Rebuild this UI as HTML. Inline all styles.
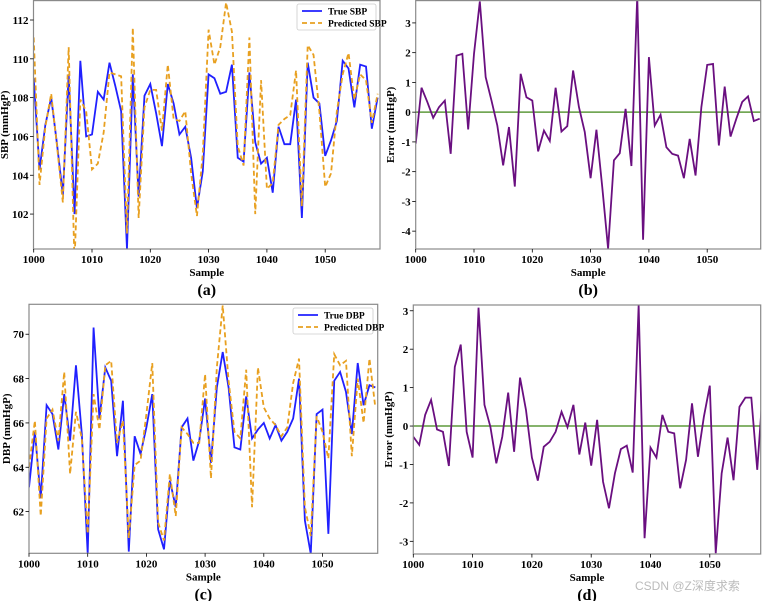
<!DOCTYPE html>
<html><head><meta charset="utf-8"><style>
html,body{margin:0;padding:0;background:#fff;}
svg{display:block;font-family:"Liberation Serif","Noto Serif CJK SC",serif;}
.tk{font-size:11px;font-weight:bold;fill:#000;}
.al{font-size:11px;font-weight:bold;fill:#000;}
.pl{font-size:16px;font-weight:bold;fill:#000;}
</style></head><body>
<svg id="fig" width="762" height="601" viewBox="0 0 762 601" xmlns="http://www.w3.org/2000/svg">
<text x="635" y="590" style="font-family:'Liberation Sans','Noto Sans CJK SC',sans-serif;font-size:12px;fill:#bbb">CSDN @Z深度求索</text>
</svg>
<script>
const samples = Array.from({length:60},(_,i)=>1000+i);
const trueSBP = [109.0,104.3,106.6,108.0,105.6,103.0,109.2,102.0,109.9,106.0,106.1,108.3,107.9,109.8,108.6,107.3,100.2,109.2,102.9,108.1,108.7,107.2,105.5,108.7,107.7,106.1,106.5,104.9,102.3,104.2,109.2,109.0,108.2,108.3,109.7,104.9,104.7,109.3,105.7,104.6,104.9,103.1,106.5,105.6,105.6,107.9,101.8,109.8,108.0,107.7,105.0,105.8,106.8,109.9,109.5,107.5,109.7,109.6,106.4,108.0];
const predSBP = [111.1,103.5,106.5,108.2,105.5,102.6,110.6,99.5,107.9,107.3,104.3,104.6,106.2,109.3,109.2,109.1,101.0,111.6,101.8,107.5,108.4,108.4,106.3,109.7,106.9,106.8,107.3,104.1,101.9,105.1,111.5,109.7,110.6,112.9,111.4,105.5,104.5,111.1,102.0,108.9,103.3,103.6,106.6,106.9,107.1,109.4,102.4,110.7,110.2,107.3,103.4,104.1,107.3,109.2,110.3,107.9,109.2,108.9,106.7,108.2];
const errSBP = [-1.06,0.82,0.34,-0.19,0.17,0.39,-1.4,1.9,1.96,-0.58,1.96,3.72,1.18,0.39,-0.45,-1.79,-0.5,-2.5,1.29,0.5,0.39,-1.32,-0.62,-0.97,0.82,-0.65,-0.47,1.4,0.17,-0.67,-2.22,-0.59,-2.52,-4.59,-1.62,-1.38,0.11,-1.81,3.9,-4.29,1.85,-0.45,-0.09,-1.18,-1.4,-1.46,-2.22,-0.9,-2.13,0.17,1.59,1.62,-1.12,0.86,-0.82,-0.22,0.34,0.53,-0.3,-0.22];
const trueDBP = [63.1,65.6,62.6,66.8,66.4,64.8,67.3,65.2,68.6,65.5,60.1,70.3,66.2,68.5,67.9,64.5,67.0,60.2,65.4,64.6,65.8,67.3,61.2,60.3,63.4,62.2,65.8,66.2,64.3,65.2,67.1,64.2,67.6,69.2,67.6,64.9,64.8,67.2,65.3,65.7,66.0,65.3,65.9,65.2,65.6,66.2,68.0,61.6,60.1,66.4,66.6,61.0,67.9,68.3,67.4,65.5,68.7,66.8,67.7,67.6];
const predDBP = [64.0,66.1,61.8,66.2,66.6,65.2,68.3,63.7,66.5,65.3,61.0,67.3,65.7,68.6,68.8,65.1,66.1,60.8,64.1,64.3,66.4,68.7,61.5,60.7,63.7,61.8,65.8,65.5,65.1,65.1,68.2,63.5,68.5,71.3,67.9,65.6,65.3,68.4,62.2,68.5,66.7,66.2,65.9,65.4,65.8,67.8,68.9,62.2,60.9,66.3,65.6,64.4,69.1,68.6,68.8,64.5,68.0,66.0,68.9,66.7];
const errDBP = [-0.28,-0.49,0.29,0.68,-0.09,-0.15,-1.04,1.54,2.12,-0.15,-0.82,3.08,0.55,-0.02,-0.97,-0.28,0.87,-0.67,1.26,0.42,-0.82,-1.42,-0.54,-0.41,-0.15,0.37,-0.03,0.55,-0.74,0.09,-1.03,0.16,-1.45,-2.14,-1.23,-0.6,-0.51,-1.21,3.15,-2.92,-0.56,-0.82,0.29,-0.15,-0.19,-1.62,-0.88,0.59,-0.8,0.24,1.05,-3.31,-1.23,-0.3,-1.41,0.5,0.74,0.74,-1.14,1.08];
const xTicks = [1000,1010,1020,1030,1040,1050];
const sbpTicks = [102,104,106,108,110,112];
const dbpTicks = [62,64,66,68,70];
const errSbpTicks = [-4,-3,-2,-1,0,1,2,3];
const errDbpTicks = [-3,-2,-1,0,1,2,3];

const NS='http://www.w3.org/2000/svg';
const svg=document.getElementById('fig');
let clipN=0;
function mk(tag,attrs,parent){const e=document.createElementNS(NS,tag);for(const k in attrs)e.setAttribute(k,attrs[k]);(parent||svg).appendChild(e);return e;}

function panel(o){
  const g=mk('g',{});
  
  
  const sx=v=>o.x0+(v-1000)*o.dx;
  const sy=v=>o.bottom-(v-o.ymin)/(o.ymax-o.ymin)*(o.bottom-o.top);
  const cid='clip'+(clipN++);
  const cp=mk('clipPath',{id:cid},g);
  mk('rect',{x:o.left,y:o.top,width:o.right-o.left,height:o.bottom-o.top},cp);
  const plot=mk('g',{'clip-path':'url(#'+cid+')'},g);
  if(o.zero){
    const z=mk('line',{x1:o.left,x2:o.right,y1:sy(0),y2:sy(0),stroke:'#5e9a3c','stroke-width':1.5},plot);
    
    
  }
  o.series.forEach(s=>{
    const d=s.data.map((v,i)=>(i?'L':'M')+sx(samples[i]).toFixed(2)+' '+sy(v).toFixed(2)).join(' ');
    const p=mk('path',{d:d,fill:'none',stroke:s.color,'stroke-width':s.w||1.8,'stroke-dasharray':s.dash||'none','stroke-linejoin':'miter'},plot);
    
    
  });
  const fr=mk('rect',{x:o.left,y:o.top,width:o.right-o.left,height:o.bottom-o.top,fill:'none',stroke:'#8a8a8a','stroke-width':1.2},g);
  
  
  xTicks.forEach(t=>{
    const x=sx(t);
    mk('line',{x1:x,x2:x,y1:o.bottom,y2:o.bottom+3.5,stroke:'#000','stroke-width':0.8},g);
    const tx=mk('text',{x:x,y:o.bottom+14,'text-anchor':'middle',class:'tk'},g);
    tx.textContent=t;
    
    
  });
  o.yticks.forEach(t=>{
    const y=sy(t);
    mk('line',{x1:o.left-3.5,x2:o.left,y1:y,y2:y,stroke:'#000','stroke-width':0.8},g);
    const ty=mk('text',{x:o.left-5,y:y+4,'text-anchor':'end',class:'tk'},g);
    ty.textContent=t;
    
    
  });
  const cx=(o.left+o.right)/2;
  const xl=mk('text',{x:cx,y:o.bottom+27,'text-anchor':'middle',class:'al'},g);
  xl.textContent='Sample';
  
  
  const cy=(o.top+o.bottom)/2;
  const yl=mk('text',{x:o.ylabx,y:cy,'text-anchor':'middle',class:'al',transform:'rotate(-90 '+o.ylabx+' '+cy+')'},g);
  yl.textContent=o.ylabel;
  
  
  const pl=mk('text',{x:cx,y:o.bottom+46,'text-anchor':'middle',class:'pl'},g);
  pl.textContent=o.tag;
  
  
  if(o.legend){
    const L=o.legend;
    const lg=mk('g',{},g);
    
    
    mk('rect',{x:L.x,y:L.y,width:L.w,height:26,fill:'#fff',stroke:'#ccc','stroke-width':0.8,rx:2},lg);
    L.items.forEach((it,k)=>{
      const yy=L.y+7+k*12;
      mk('line',{x1:L.x+5,x2:L.x+25,y1:yy,y2:yy,stroke:it.color,'stroke-width':1.8,'stroke-dasharray':it.dash||'none'},lg);
      const t=mk('text',{x:L.x+31,y:yy+3.5,style:'font-size:9.5px;font-weight:bold'},lg);
      t.textContent=it.label;
      
      
    });
  }
}
const BLUE='#2020ff', ORANGE='#e8a020', PURPLE='#6a0f80';
panel({name:'panel-a-sbp',x0:33.7,dx:5.83,left:33.5,right:380,top:0.6,bottom:249,ymin:100.2,ymax:113.0,yticks:sbpTicks,ylabel:'SBP (mmHgP)',ylabx:8,tag:'(a)',
  series:[{name:'true-sbp-line',data:trueSBP,color:BLUE},{name:'predicted-sbp-line',data:predSBP,color:ORANGE,dash:'5 3'}],
  legend:{x:297,y:4,w:79,items:[{label:'True SBP',color:BLUE},{label:'Predicted SBP',color:ORANGE,dash:'5 3'}]}});
panel({name:'panel-b-sbp-error',x0:415.7,dx:5.83,left:415.7,right:760.7,top:0.6,bottom:249,ymin:-4.6,ymax:3.75,yticks:errSbpTicks,ylabel:'Error (mmHgP)',ylabx:394,tag:'(b)',zero:true,
  series:[{name:'sbp-error-line',data:errSBP,color:PURPLE}]});
panel({name:'panel-c-dbp',x0:29,dx:5.87,left:29,right:377.7,top:304.3,bottom:553.3,ymin:60.12,ymax:71.35,yticks:dbpTicks,ylabel:'DBP (mmHgP)',ylabx:10,tag:'(c)',
  series:[{name:'true-dbp-line',data:trueDBP,color:BLUE},{name:'predicted-dbp-line',data:predDBP,color:ORANGE,dash:'5 3'}],
  legend:{x:293,y:308,w:80,items:[{label:'True DBP',color:BLUE},{label:'Predicted DBP',color:ORANGE,dash:'5 3'}]}});
panel({name:'panel-d-dbp-error',x0:413.3,dx:5.93,left:413.3,right:760.7,top:305,bottom:554,ymin:-3.33,ymax:3.15,yticks:errDbpTicks,ylabel:'Error (mmHgP)',ylabx:392,tag:'(d)',zero:true,
  series:[{name:'dbp-error-line',data:errDBP,color:PURPLE}]});
</script>
</body></html>
